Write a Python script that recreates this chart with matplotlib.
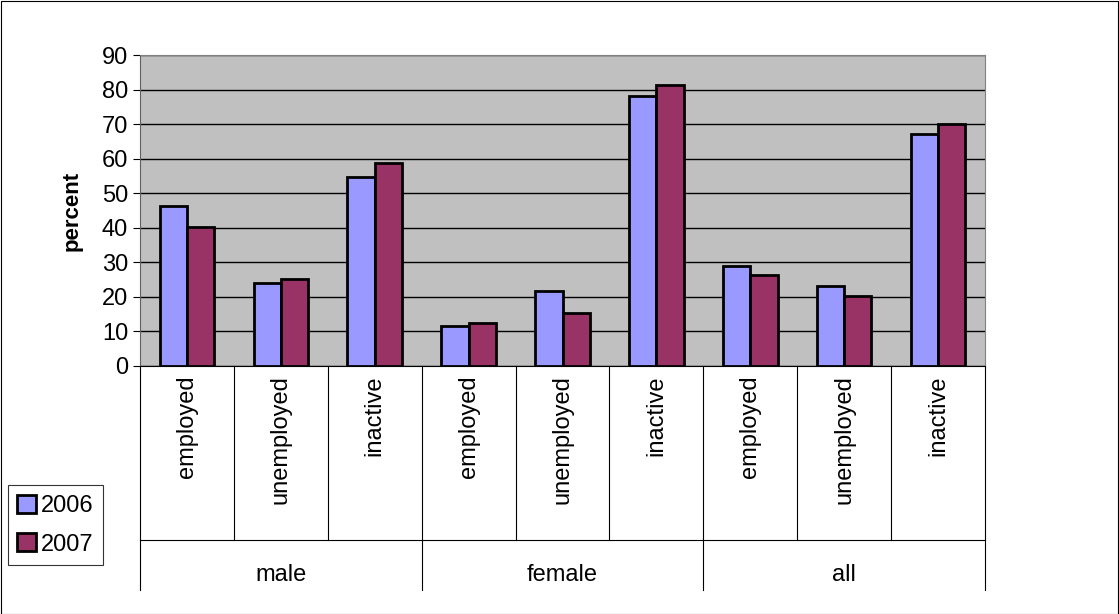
import matplotlib
matplotlib.use("Agg")
import matplotlib.pyplot as plt
import numpy as np
from matplotlib.patches import Rectangle

plt.rcParams['font.family'] = ['Liberation Sans', 'DejaVu Sans']

groups = ["male", "female", "all"]
subcats = ["employed", "unemployed", "inactive"]
v2006 = [46.3, 24.1, 54.7, 11.7, 21.6, 78.1, 28.9, 23.1, 67.2]
v2007 = [40.3, 25.1, 58.7, 12.5, 15.4, 81.4, 26.2, 20.2, 70.0]
yticks = list(range(0, 91, 10))

W, H = 1119, 614
fig = plt.figure(figsize=(W/100, H/100), dpi=100)
fig.patches.append(Rectangle((0.5/W, 0.5/H), 1-1.5/W, 1-1.5/H, transform=fig.transFigure,
                             fill=False, edgecolor="black", lw=0.8))
ax = fig.add_axes([140/W, 1-366/H, 845/W, 311/H])
ax.set_facecolor("#c0c0c0")
n = len(v2006)
x = np.arange(n)
bw = 0.29
ax.bar(x - bw/2, v2006, bw, color="#9999ff", edgecolor="black", lw=2, label="2006", zorder=3)
ax.bar(x + bw/2, v2007, bw, color="#993366", edgecolor="black", lw=2, label="2007", zorder=3)
ax.set_xlim(-0.5, n - 0.5)
ax.set_ylim(0, 90)
ax.set_yticks(yticks)
ax.tick_params(axis="y", labelsize=17, length=5, direction="out")
ax.yaxis.grid(True, color="black", lw=1, zorder=1)
ax.set_xticks([])
for s in ["top", "right"]:
    ax.spines[s].set_color("#808080")
ax.spines["left"].set_color("#606060")
ax.spines["bottom"].set_color("black")
ax.set_ylabel("percent", fontsize=16, fontweight="bold", labelpad=14)

tr = ax.get_xaxis_transform()
def yax(py):
    return (366 - py) / 311.0
for i in range(n + 1):
    xe = i - 0.5
    bot = 590 if i % 3 == 0 else 540
    ax.plot([xe, xe], [0, yax(bot)], transform=tr, color="black", lw=0.8, clip_on=False)
for i in range(n):
    ax.text(i, yax(375), subcats[i % 3], transform=tr, rotation=90, ha="center", va="top", fontsize=17)
ax.plot([-0.5, n - 0.5], [yax(540), yax(540)], transform=tr, color="black", lw=0.8, clip_on=False)
for g, name in enumerate(groups):
    ax.text(3*g + 1, yax(575), name, transform=tr, ha="center", va="center", fontsize=17)

leg = fig.legend(loc="lower left", bbox_to_anchor=(8/W, 1-565/H), fontsize=17, frameon=True,
                 fancybox=False, edgecolor="black", handlelength=0.8, handleheight=0.8,
                 handletextpad=0.2, borderpad=0.4, labelspacing=0.7, borderaxespad=0)
leg.get_frame().set_linewidth(0.8)
fig.savefig("out.png", dpi=100)
